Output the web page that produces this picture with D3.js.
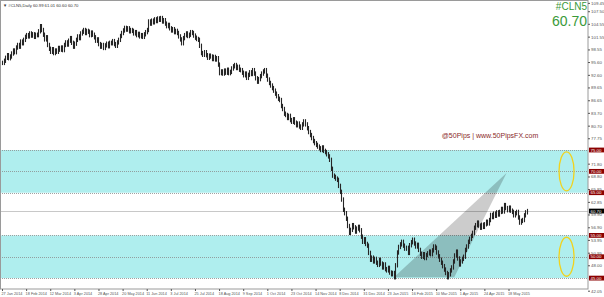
<!DOCTYPE html>
<html>
<head>
<meta charset="utf-8">
<script src="https://cdn.jsdelivr.net/npm/d3@7"></script>
<style>
  body { margin: 0; background: #fff; }
  svg { display: block; font-family: "Liberation Sans", Arial, sans-serif; }
</style>
</head>
<body>
<svg id="chart"></svg>
<script>
// Taille du graphique
const width = 604, height = 297;
const plotRight = 588, plotBottom = 289;

// Clôtures journalières (#CLN5, Daily)
const closes = [
  95.4, 95.9, 96.6, 97.2, 96.5, 96.9, 97.6, 98.3, 97.9, 99.0, 99.6, 99.2, 100.4, 100.0, 100.8, 101.5, 101.9,
  101.6, 102.3, 101.8, 102.1, 101.5, 102.0, 101.9, 102.8, 104.0, 103.1, 102.0,
  100.9, 101.4, 99.6, 98.7, 98.0, 98.6, 97.7,
  98.3, 98.0, 98.9, 98.5, 99.0, 98.4, 99.6, 100.2, 99.7, 100.6, 101.2, 100.1, 99.2,
  99.9, 100.8, 101.6, 101.2, 102.3, 102.7, 103.1, 102.4, 102.9, 102.7, 101.9, 102.5, 102.0,
  101.4, 100.6, 100.9, 99.8, 99.2, 99.6, 98.9, 99.5, 99.9, 99.3, 100.1, 100.0, 100.5, 99.8, 99.4, 100.2, 100.8,
  101.7, 102.4, 103.0, 103.6, 103.2, 103.5, 102.8, 103.1, 102.9, 102.3, 102.6, 101.9, 102.2, 101.6, 101.9, 101.5, 102.1, 102.6, 103.1, 105.1,
  104.6, 105.3, 104.9, 105.6, 105.2, 105.8, 105.5, 105.9, 105.1, 105.4, 104.6, 104.0, 104.3, 103.5, 103.0, 103.3, 102.6, 102.9, 102.4, 101.6, 100.9, 100.0,
  101.2, 101.9, 102.3, 101.7, 102.0, 102.6, 102.4, 101.8, 101.3, 101.0, 100.8, 99.4, 97.7,
  97.3, 97.9, 97.2, 96.6, 97.1, 96.9, 96.3, 96.8, 96.2, 96.5, 95.0, 93.0,
  93.4, 92.9, 93.6, 93.1, 93.8, 93.0, 93.3, 94.1, 94.6, 94.9, 94.2, 94.5, 93.8, 93.7, 93.1, 92.5, 92.9, 91.9,
  92.6, 93.2, 92.8, 93.7, 92.9, 91.8, 91.0, 91.6, 92.3, 92.9, 93.4, 93.7, 92.4, 91.5, 90.7, 90.1, 89.5,
  88.9, 88.2, 87.6, 87.0, 86.7, 85.3, 84.6, 83.5, 83.2, 82.5, 83.0, 82.0, 81.6, 82.2, 81.4, 80.8, 81.2, 80.5,
  80.2, 81.0, 81.7, 81.0, 80.1, 79.2, 78.5, 77.8, 77.1, 76.6, 76.2, 75.8, 75.4, 75.0,
  75.6, 74.8, 74.5, 74.0, 73.5, 72.7, 70.6, 69.0, 68.7, 68.3, 68.0, 66.6, 65.2,
  63.4, 61.0, 60.2, 58.9, 57.2, 55.6, 56.3, 57.4, 56.9, 55.9, 56.6, 57.0, 56.2, 54.7, 53.5, 54.1, 53.0, 52.6,
  50.9, 49.3, 49.8, 48.9, 49.5, 48.6, 48.1, 49.3, 48.4, 47.5, 48.2, 47.1, 46.8, 47.4, 46.3, 45.9, 46.2, 45.2,
  48.0, 51.0, 52.3, 52.9, 53.5, 52.6, 51.9, 52.1, 50.9, 52.7, 53.4, 54.0, 53.1, 52.4, 52.8, 51.6, 50.7, 50.0,
  50.6, 49.7, 50.4, 50.8, 51.2, 50.6, 51.5, 52.4, 52.1, 51.0, 50.1, 49.3, 48.6, 47.8, 47.0, 46.2, 45.2,
  45.9, 46.8, 47.5, 48.9, 50.3, 51.2, 49.6, 48.2, 48.9, 49.5, 50.0, 51.6, 52.4, 53.5,
  54.2, 54.9, 55.6, 56.8, 57.4, 58.0, 57.3, 56.8, 57.5, 57.0, 57.6, 58.2, 57.8, 58.6, 59.8, 59.3, 60.1, 59.6,
  60.4, 59.9, 60.5, 61.2, 60.6, 62.1, 61.4, 60.9, 61.5, 60.8, 60.5, 59.7, 60.2, 60.5, 59.2, 58.0, 58.4, 58.6,
  59.7, 60.4, 60.7
];

// Étiquettes de dates (une toutes les 16 barres)
const dateLabels = ["27 Jan 2014", "18 Feb 2014", "12 Mar 2014", "3 Apr 2014", "28 Apr 2014", "20 May 2014",
  "11 Jun 2014", "3 Jul 2014", "25 Jul 2014", "18 Aug 2014", "9 Sep 2014", "1 Oct 2014", "23 Oct 2014",
  "14 Nov 2014", "8 Dec 2014", "31 Dec 2014", "23 Jan 2015", "16 Feb 2015", "10 Mar 2015", "1 Apr 2015",
  "24 Apr 2015", "18 May 2015"];
const dateIdx = dateLabels.map((d, k) => k * 16);

// Graduations de l'axe des prix (celles cachées sous les étiquettes de niveau sont omises)
const priceTicks = [109.45, 107.50, 104.55, 101.55, 98.55, 95.60, 92.60, 89.65, 86.65, 83.70, 80.70, 77.75,
  71.80, 68.80, 65.85, 62.85, 59.90, 56.90, 53.95, 50.95, 48.00, 42.05];

// Zones de support / résistance et niveaux
const zones = [[65, 75], [45, 55]];
const levels = [75, 70, 65, 55, 50, 45];
const lastPrice = 60.70;

// Triangle (index de barre, prix) et ellipses
const triangle = [[260, 45.2], [300, 45.2], [334.7, 69.6]];
const ellipses = [[374.5, 70], [374.5, 50]];

const svg = d3.select("#chart").attr("width", width).attr("height", height);

const x = d3.scaleLinear().domain([0, 388.4]).range([2, 587.5]);
const y = d3.scaleLinear().domain([42.05, 109.45]).range([290.7, 2.9]);

svg.append("defs").append("clipPath").attr("id", "plot")
  .append("rect").attr("x", 0).attr("y", 0).attr("width", plotRight).attr("height", plotBottom);

const plot = svg.append("g").attr("clip-path", "url(#plot)");

// Zones cyan
plot.selectAll("rect.zone").data(zones).enter().append("rect")
  .attr("x", 0).attr("width", plotRight)
  .attr("y", d => y(d[1])).attr("height", d => y(d[0]) - y(d[1]))
  .attr("fill", "#afeeee");

// Lignes pointillées
plot.selectAll("line.lvl").data(levels).enter().append("line")
  .attr("x1", 0).attr("x2", plotRight)
  .attr("y1", d => Math.round(y(d)) + 0.5).attr("y2", d => Math.round(y(d)) + 0.5)
  .attr("stroke", "#8a8a8a").attr("stroke-width", 0.8).attr("stroke-dasharray", "1,1");

// Ligne du dernier prix
plot.append("line")
  .attr("x1", 0).attr("x2", plotRight)
  .attr("y1", Math.round(y(lastPrice)) + 0.5).attr("y2", Math.round(y(lastPrice)) + 0.5)
  .attr("stroke", "#c8c8c8").attr("stroke-width", 1);

// Triangle gris
plot.append("path")
  .attr("d", d3.line().x(d => x(d[0])).y(d => y(d[1])).curve(d3.curveLinearClosed)(triangle))
  .attr("fill", "#cccccc").style("mix-blend-mode", "multiply");

// Barres (ouverture = clôture précédente)
plot.selectAll("line.bar").data(closes).enter().append("line")
  .attr("x1", (d, i) => Math.round(x(i)) + 0.5).attr("x2", (d, i) => Math.round(x(i)) + 0.5)
  .attr("y1", (d, i) => y(Math.max(d, i ? closes[i - 1] : d)) - 2.2)
  .attr("y2", (d, i) => y(Math.min(d, i ? closes[i - 1] : d)) + 2.2)
  .attr("stroke", "#262626").attr("stroke-width", 1.1);

// Ellipses jaunes
plot.selectAll("ellipse").data(ellipses).enter().append("ellipse")
  .attr("cx", d => x(d[0])).attr("cy", d => y(d[1]))
  .attr("rx", 7.5).attr("ry", 19.5)
  .attr("fill", "none").attr("stroke", "#f2d21c").attr("stroke-width", 1.3);

// Cadre
svg.append("rect").attr("x", 0.5).attr("y", 0.5).attr("width", plotRight - 0.5).attr("height", plotBottom - 0.5)
  .attr("fill", "none").attr("stroke", "#9a9a9a").attr("stroke-width", 1);

// Axe des prix
const yAxis = svg.append("g").attr("transform", `translate(${plotRight},0)`)
  .call(d3.axisRight(y).tickValues(priceTicks).tickSize(2).tickPadding(1).tickFormat(d3.format(".2f")));
yAxis.select(".domain").remove();
yAxis.selectAll("line").attr("stroke", "#555");
yAxis.selectAll("text").attr("font-size", 4.4).attr("fill", "#555").attr("font-family", "Liberation Sans, Arial");

// Étiquettes rouges des niveaux
const lab = svg.append("g");
lab.selectAll("rect").data(levels).enter().append("rect")
  .attr("x", plotRight + 1).attr("width", 15).attr("y", d => y(d) - 2.4).attr("height", 4.8)
  .attr("fill", "#8b0000");
lab.selectAll("text").data(levels).enter().append("text")
  .attr("x", plotRight + 2.5).attr("y", d => y(d) + 1.6)
  .attr("font-size", 4.4).attr("fill", "#fff").text(d => d3.format(".2f")(d));

// Étiquette du dernier prix
svg.append("rect").attr("x", plotRight + 1).attr("width", 15).attr("y", y(lastPrice) - 2.4).attr("height", 4.8)
  .attr("fill", "#000");
svg.append("text").attr("x", plotRight + 2.5).attr("y", y(lastPrice) + 1.6)
  .attr("font-size", 4.4).attr("fill", "#fff").text(d3.format(".2f")(lastPrice));

// Axe des dates
const xAxis = svg.append("g").attr("transform", `translate(0,${plotBottom})`)
  .call(d3.axisBottom(x).tickValues(dateIdx).tickSize(2).tickPadding(1).tickFormat((d, k) => dateLabels[k]));
xAxis.select(".domain").remove();
xAxis.selectAll("line").attr("stroke", "#555");
xAxis.selectAll("text").attr("text-anchor", "start").attr("dx", -1).attr("font-size", 3.8).attr("fill", "#555");

// Titre en haut à gauche
svg.append("text").attr("x", 3).attr("y", 6.5).attr("font-size", 4.2).attr("fill", "#333")
  .text("\u25BC #CLN5,Daily  60.99 61.01 60.60 60.70");

// Symbole et prix en vert
svg.append("text").attr("x", plotRight - 1).attr("y", 9.5).attr("text-anchor", "end")
  .attr("font-size", 10).attr("fill", "#3a9a3a").text("#CLN5");
svg.append("text").attr("x", plotRight - 1).attr("y", 25.5).attr("text-anchor", "end")
  .attr("font-size", 14).attr("fill", "#3a9a3a").text("60.70");

// Filigrane
svg.append("text").attr("x", 490).attr("y", 137.5).attr("text-anchor", "middle")
  .attr("font-size", 7).attr("fill", "#8b2a2a").text("@50Pips | www.50PipsFX.com");
</script>
</body>
</html>
